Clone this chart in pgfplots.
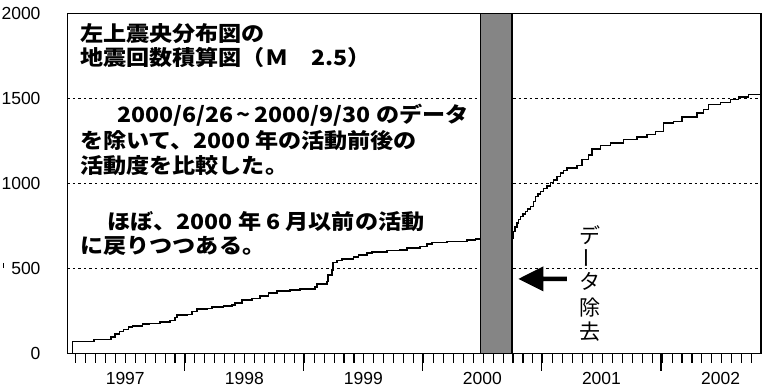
\documentclass[border=0pt]{standalone}
\usepackage{fontspec}
\setmainfont{Liberation Sans}
\newfontfamily\jp{Noto Sans CJK JP}[FakeStretch=1.1]
\newfontfamily\jpr{Noto Sans CJK JP}
\usepackage{graphicx}
\usepackage{pgfplots}
\pgfplotsset{compat=1.18}
\begin{document}
\begin{tikzpicture}
\begin{axis}[
  at={(0pt,0pt)}, anchor=south west,
  scale only axis, width=693.5pt, height=340.5pt,
  xmin=1997.015, xmax=2002.84, ymin=0, ymax=2000,
  axis line style={line width=1.2pt},
  xtick={1998,1999,2000,2001,2002},
  xticklabels={},
  minor xtick={1997.0833,1997.1667,...,2002.84},
  extra x ticks={1997.5,1998.5,1999.5,2000.5,2001.5,2002.5},
  extra x tick labels={1997,1998,1999,2000,2001,2002},
  extra x tick style={major tick length=0pt},
  ytick={0,500,1000,1500,2000},
  ymajorgrids,
  grid style={dash pattern=on 2.5pt off 3pt, line width=1.1pt, black},
  tick align=outside, tick pos=left,
  ytick style={draw=none},
  xtick style={line width=1.1pt, black},
  major tick length=17pt, minor tick length=9pt,
  tick label style={font=\fontsize{17.5}{20}\selectfont},
  /pgf/number format/assume math mode=true,
  /pgf/number format/set thousands separator={},
  yticklabel style={xshift=-6.5pt},
  xticklabel style={yshift=-15pt},
]
% removed-data band
\addplot[draw=black, line width=1.2pt, fill=black!48] coordinates {(2000.483,0) (2000.483,2000) (2000.748,2000) (2000.748,0) (2000.483,0)};
% cumulative count before removal
\addplot[const plot, black, line width=1.5pt] coordinates {
(1997.045,0) (1997.055,71) (1997.236,85) (1997.380,100) (1997.414,115) (1997.450,130)
(1997.484,144) (1997.526,156) (1997.563,164) (1997.646,175) (1997.703,179) (1997.792,187)
(1997.876,195) (1997.918,212) (1997.933,228) (1998.017,232) (1998.059,248) (1998.101,262)
(1998.185,265) (1998.227,274) (1998.324,281) (1998.395,287) (1998.423,297) (1998.479,316)
(1998.563,326) (1998.633,340) (1998.703,356) (1998.773,368) (1998.885,375) (1998.969,382)
(1999.095,391) (1999.109,411) (1999.193,424) (1999.202,464) (1999.235,493) (1999.244,536)
(1999.277,548) (1999.319,556) (1999.417,568) (1999.459,581) (1999.529,591) (1999.571,597)
(1999.697,606) (1999.809,611) (1999.866,621) (1999.977,630) (2000.034,646) (2000.076,654)
(2000.202,659) (2000.370,669) (2000.440,673) (2000.483,673)};
% cumulative count after removal
\addplot[const plot, black, line width=1.5pt] coordinates {
(2000.748,680) (2000.755,700) (2000.761,718) (2000.775,745) (2000.790,768) (2000.804,788) (2000.818,806) (2000.840,822) (2000.860,836) (2000.880,850) (2000.902,865)
(2000.929,895) (2000.944,924) (2000.965,940) (2000.986,954) (2001.015,970) (2001.042,987) (2001.070,1005) (2001.097,1022) (2001.125,1042) (2001.154,1062)
(2001.180,1078) (2001.210,1091) (2001.294,1105) (2001.336,1140) (2001.392,1169) (2001.420,1203) (2001.490,1222)
(2001.574,1238) (2001.686,1258) (2001.798,1274) (2001.882,1287) (2001.952,1307) (2002.022,1356)
(2002.106,1365) (2002.176,1391) (2002.303,1415) (2002.358,1434) (2002.400,1464) (2002.498,1477)
(2002.582,1493) (2002.652,1509) (2002.736,1522) (2002.84,1522)};
% arrow
\addplot[fill=black, draw=none] coordinates {(2000.803,440) (2001.011,513) (2001.011,453) (2001.21,453) (2001.21,427) (2001.011,427) (2001.011,367) (2000.803,440)};
\end{axis}
\begin{scope}[every node/.style={anchor=west, inner sep=0pt, font=\jp\bfseries\fontsize{21}{25}\selectfont}]
\node at (12.5pt,319.8pt) {左上震央分布図の};
\node at (12.5pt,295.8pt) {地震回数積算図（Ｍ　2.5）};
\node at (49.5pt,238.3pt) {2000/6/26\,\textasciitilde\,2000/9/30 のデータ};
\node at (12.5pt,212.8pt) {を除いて、2000 年の活動前後の};
\node at (12.5pt,187.8pt) {活動度を比較した。};
\node at (39.5pt,131.8pt) {ほぼ、2000 年 6 月以前の活動};
\node at (12.5pt,107.8pt) {に戻りつつある。};
\end{scope}
\begin{scope}[every node/.style={anchor=center, inner sep=0pt, font=\jpr\fontsize{21}{24}\selectfont}]
\node at (522.5pt,118.8pt) {デ};
\node at (522.5pt,96pt) {\rotatebox[origin=c]{90}{ー}};
\node at (522.5pt,72.8pt) {タ};
\node at (522.5pt,45.8pt) {除};
\node at (522.5pt,21.8pt) {去};
\end{scope}
\draw[line width=1pt] (-63.5pt,91pt) -- (-63.5pt,86pt);
\pgfresetboundingbox
\path[use as bounding box] (-67.5pt,-33.2pt) rectangle (694.5pt,353.8pt);
\end{tikzpicture}
\end{document}
